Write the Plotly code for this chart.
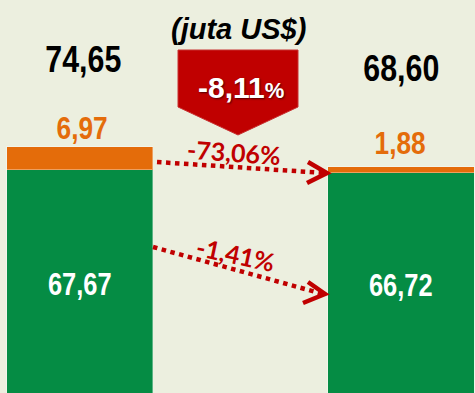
import plotly.graph_objects as go

# ---- data -------------------------------------------------------------
positions = [0, 1]                 # two periods compared side by side
green_vals = [67.67, 66.72]        # main component (bottom segment)
orange_vals = [6.97, 1.88]         # secondary component (top segment)
totals = [74.65, 68.60]            # stated totals
total_change = -8.11               # % change of the totals
orange_change = -73.06             # % change of the top segment
green_change = -1.41               # % change of the bottom segment

# ---- style ------------------------------------------------------------
W, H = 475, 393
BG = "#ECEFDF"
GREEN = "#058C44"
ORANGE = "#E46C0A"
RED = "#C00000"
ARIAL = "Liberation Sans, Arial, sans-serif"
HUMAN = "Lato, Open Sans, sans-serif"
NARROW_FACTOR = 0.82               # horizontal squeeze for the value labels


def fmt(v):
    return f"{v:.2f}".replace(".", ",")


def pct(v):
    return f"{v:.2f}".replace(".", ",") + "%"


def P(px, py):
    """pixel position -> paper coordinates"""
    return px / W, 1 - py / H


fig = go.Figure()
bar_line = dict(color="rgba(255,255,255,0.35)", width=1)
fig.add_bar(x=positions, y=green_vals, width=0.455, marker=dict(color=GREEN, line=bar_line))
fig.add_bar(x=positions, y=orange_vals, width=0.455, marker=dict(color=ORANGE, line=bar_line))

base = dict(showarrow=False, xanchor="center", yanchor="middle")
ann = []
# totals above the bars
total_shift = [87, 98]
total_x = [4, 0]
for x, t, s, dx in zip(positions, totals, total_shift, total_x):
    ann.append(dict(base, x=x, y=t, xref="x", yref="y", text=fmt(t),
                    yshift=s, xshift=dx,
                    font=dict(family=ARIAL, size=37, color="black", weight="bold")))
# top-segment values
orange_shift = [19, 24]
orange_x = [2, -1]
for x, g, o, s, dx in zip(positions, green_vals, orange_vals, orange_shift, orange_x):
    ann.append(dict(base, x=x, y=g + o, xref="x", yref="y", text=fmt(o),
                    yshift=s, xshift=dx,
                    font=dict(family=ARIAL, size=32, color=ORANGE, weight="bold")))
# bottom-segment values
for x, g in zip(positions, green_vals):
    ann.append(dict(base, x=x, y=g / 2, xref="x", yref="y", text=fmt(g),
                    yshift=-3,
                    font=dict(family=ARIAL, size=31, color="white", weight="bold")))
n_narrow = len(ann)  # value labels drawn in a condensed style

# unit subtitle
sx, sy = P(238, 29)
ann.append(dict(base, x=sx, y=sy, xref="paper", yref="paper", text="(juta US$)",
                font=dict(family=ARIAL, size=29, color="black", weight="bold", style="italic")))

# callout with total change
cx, cy = P(241, 87)
ann.append(dict(base, x=cx, y=cy, xref="paper", yref="paper",
                text=fmt(total_change) + "<span style='font-size:22px'>%</span>",
                font=dict(family=ARIAL, size=30, color="white", weight="bold",
                          shadow="1px 1px 2px rgba(0,0,0,0.6)")))

# segment change labels along the dotted arrows
ux, uy = P(234, 152)
ann.append(dict(base, x=ux, y=uy, xref="paper", yref="paper", text=pct(orange_change),
                textangle=4,
                font=dict(family=HUMAN, size=25, color=RED, weight="bold")))
lx, ly = P(235, 254)
ann.append(dict(base, x=lx, y=ly, xref="paper", yref="paper", text=pct(green_change),
                textangle=12,
                font=dict(family=HUMAN, size=25, color=RED, weight="bold")))


def path(points, close=False):
    s = ""
    for i, (px, py) in enumerate(points):
        x, y = P(px, py)
        s += ("M" if i == 0 else " L") + f"{x:.5f},{y:.5f}"
    return s + (" Z" if close else "")


shapes = [
    # downward callout arrow
    dict(type="path", xref="paper", yref="paper",
         path=path([(178, 50), (298, 50), (298, 107), (238, 135), (178, 107)], close=True),
         fillcolor=RED, line=dict(color="#C83030", width=1)),
]
# dotted connector lines with open arrow heads
for (x0, y0), (x1, y1), (a1, a2) in [
    ((157, 162), (325, 173), ((308, 162), (307, 183))),
    ((153, 247), (323, 294), ((308, 282), (303, 303))),
]:
    p0, p1 = P(x0, y0), P(x1, y1)
    shapes.append(dict(type="line", xref="paper", yref="paper",
                       x0=p0[0], y0=p0[1], x1=p1[0], y1=p1[1],
                       line=dict(color=RED, width=4.5, dash="dot")))
    shapes.append(dict(type="path", xref="paper", yref="paper",
                       path=path([a1, (x1 + 2, y1), a2]),
                       line=dict(color=RED, width=4.5)))

fig.update_layout(
    width=W, height=H, margin=dict(l=0, r=0, t=0, b=0),
    barmode="stack", showlegend=False,
    paper_bgcolor=BG, plot_bgcolor=BG,
    xaxis=dict(range=[-0.249, 1.2305], visible=False, fixedrange=True),
    yaxis=dict(range=[0, 119.1], visible=False, fixedrange=True),
    annotations=ann, shapes=shapes,
)

# condense the value labels horizontally (narrow bold look)
post_js = """
(function(){
  var gd = document.getElementById('{plot_id}');
  function narrow(){
    gd.querySelectorAll('g.annotation').forEach(function(g){
      var i = +g.getAttribute('data-index');
      if (i >= %d) return;
      var t = g.querySelector('text.annotation-text');
      if (!t || t.getAttribute('data-narrow')) return;
      var L = t.getComputedTextLength();
      t.setAttribute('textLength', (L * %f).toFixed(2));
      t.setAttribute('lengthAdjust', 'spacingAndGlyphs');
      t.setAttribute('data-narrow', '1');
    });
  }
  narrow();
  if (gd.on) gd.on('plotly_afterplot', narrow);
})();
""" % (n_narrow, NARROW_FACTOR)

fig.write_html("out.html", config={"displayModeBar": False}, post_script=post_js)
